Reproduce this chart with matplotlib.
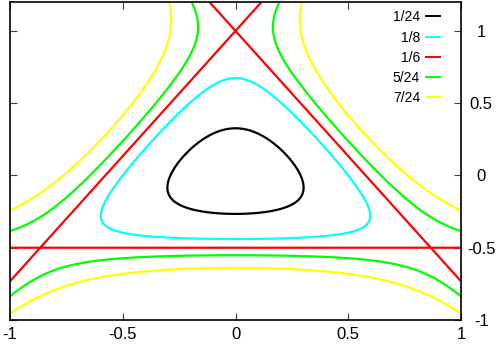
import numpy as np
import matplotlib
matplotlib.use("Agg")
import matplotlib.pyplot as plt
from matplotlib.lines import Line2D

plt.rcParams['font.family'] = ['Liberation Sans', 'DejaVu Sans']

# energy levels of the Henon-Heiles potential and their styles
levels = [1/24, 1/8, 1/6, 5/24, 7/24]
labels = ["1/24", "1/8", "1/6", "5/24", "7/24"]
colors = ["#000000", "#00ffff", "#ff0000", "#00ff00", "#ffff00"]
xticks = [-1, -0.5, 0, 0.5, 1]
yticks = [-1, -0.5, 0, 0.5, 1]
ticklabels = ["-1", "-0.5", "0", "0.5", "1"]


def potential(x, y):
    return 0.5 * (x**2 + y**2) + x**2 * y - y**3 / 3.0


xs = np.linspace(-1, 1, 801)
ys = np.linspace(-1, 1.2, 881)
X, Y = np.meshgrid(xs, ys)
V = potential(X, Y)

fig = plt.figure(figsize=(4.98, 3.46), dpi=100)
ax = fig.add_axes([10/498, 26/346, 451/498, 318/346])

ax.contour(X, Y, V, levels=levels, colors=colors, linewidths=1.6)

ax.set_xlim(-1, 1)
ax.set_ylim(-1, 1.2)
ax.set_xticks(xticks)
ax.set_xticklabels(ticklabels)
ax.set_yticks(yticks)
ax.set_yticklabels(ticklabels, ha='center')
ax.yaxis.tick_right()
ax.tick_params(axis='both', which='both', direction='in', length=5, width=0.8,
               top=True, bottom=True, left=True, right=True, labelsize=12,
               colors='#404040', labelcolor='black')
ax.tick_params(axis='y', pad=14.5)
ax.tick_params(axis='x', pad=5)
for s in ax.spines.values():
    s.set_linewidth(1.2)

handles = [Line2D([0], [0], color=c, lw=1.4) for c in colors]
leg = ax.legend(handles, labels, loc='upper right', frameon=False, fontsize=10,
                markerfirst=False, handlelength=0.95, handletextpad=0.45,
                labelspacing=0.45, borderaxespad=0.2,
                bbox_to_anchor=(0.971, 1.0))
for t in leg.get_texts():
    t.set_ha('right')

fig.savefig("out.png", dpi=100)
